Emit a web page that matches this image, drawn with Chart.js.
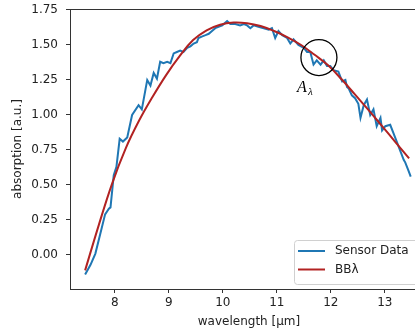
<!DOCTYPE html>
<html><head><meta charset="utf-8">
<script src="https://cdn.jsdelivr.net/npm/chart.js@4/dist/chart.umd.min.js"></script>
<style>
html,body{margin:0;padding:0;overflow:hidden;background:#fff;width:415px;height:330px}
#wrap{width:440px;height:330px}
</style></head>
<body><div id="wrap"><canvas id="c" width="440" height="330"></canvas></div>
<script>
// ---- data ----
const sensorX = [7.45,7.55,7.64,7.73,7.82,7.89,7.92,7.98,8.03,8.09,8.15,8.23,8.32,8.44,8.50,8.60,8.66,8.72,8.78,8.84,8.90,8.97,9.03,9.09,9.15,9.21,9.27,9.34,9.40,9.46,9.52,9.55,9.61,9.68,9.74,9.80,9.86,9.92,9.99,10.08,10.14,10.23,10.32,10.39,10.45,10.51,10.57,10.66,10.76,10.85,10.91,10.97,11.03,11.10,11.19,11.25,11.31,11.40,11.50,11.56,11.62,11.68,11.74,11.81,11.87,11.93,11.99,12.05,12.14,12.21,12.27,12.30,12.33,12.39,12.45,12.51,12.55,12.61,12.67,12.73,12.79,12.85,12.92,12.95,13.01,13.10,13.16,13.23,13.29,13.35,13.38,13.44,13.48];
const sensorY = [-0.14,-0.07,0.01,0.15,0.29,0.33,0.34,0.57,0.63,0.83,0.81,0.84,1.00,1.07,1.04,1.25,1.21,1.30,1.26,1.38,1.37,1.38,1.37,1.44,1.45,1.46,1.45,1.48,1.49,1.51,1.52,1.55,1.56,1.57,1.58,1.60,1.62,1.63,1.64,1.67,1.65,1.65,1.64,1.65,1.64,1.62,1.64,1.63,1.62,1.61,1.62,1.55,1.60,1.57,1.55,1.51,1.54,1.50,1.48,1.45,1.45,1.36,1.39,1.36,1.39,1.35,1.35,1.32,1.31,1.24,1.25,1.20,1.19,1.14,1.12,1.08,0.98,1.07,1.11,1.00,1.04,0.92,0.98,0.89,0.92,0.93,0.87,0.80,0.74,0.68,0.66,0.60,0.56];
const bbX = [7.45,7.7,7.95,8.2,8.45,8.7,8.95,9.2,9.45,9.7,9.95,10.2,10.45,10.7,10.95,11.2,11.45,11.7,11.95,12.2,12.45,12.7,12.95,13.2,13.45];
const bbY = [-0.11,0.21,0.51,0.76,0.96,1.13,1.285,1.42,1.535,1.605,1.645,1.66,1.655,1.635,1.60,1.555,1.50,1.43,1.355,1.255,1.145,1.035,0.92,0.805,0.69];
const seriesNames = ['Sensor Data', 'BBλ'];
const xTicks = [8, 9, 10, 11, 12, 13];
const yTicks = [0, 0.25, 0.5, 0.75, 1.0, 1.25, 1.5, 1.75];
const xTitle = 'wavelength [µm]';
const yTitle = 'absorption [a.u.]';
const markX = 11.78, markY = 1.41;   // annotation circle centre (data units)
const markLabel = 'A', markSub = 'λ';

// ---- styling ----
const FONT = "'DejaVu Sans'";
const TXT = '#222';
const BLUE = '#1f77b4', RED = '#b22222';
Chart.defaults.font.family = FONT;
Chart.defaults.font.size = 12;
Chart.defaults.color = TXT;

const toPts = (xs, ys) => xs.map((x, i) => ({x, y: ys[i]}));

const decor = {
  id: 'decor',
  afterDatasetsDraw(chart) {
    const {ctx, chartArea: a, scales} = chart;
    ctx.save();
    // frame (all four spines)
    ctx.strokeStyle = '#333'; ctx.lineWidth = 1;
    ctx.strokeRect(Math.round(a.left) + 0.5, Math.round(a.top) + 0.5,
                   Math.round(a.right - a.left), Math.round(a.bottom - a.top));
    // annotation circle
    const cx = scales.x.getPixelForValue(markX), cy = scales.y.getPixelForValue(markY);
    ctx.beginPath(); ctx.arc(cx, cy, 18, 0, Math.PI * 2);
    ctx.strokeStyle = '#000'; ctx.lineWidth = 1.3; ctx.stroke();
    ctx.fillStyle = '#000'; ctx.textBaseline = 'alphabetic'; ctx.textAlign = 'left';
    ctx.font = "italic 16px 'Liberation Serif'";
    ctx.fillText(markLabel, cx - 22, cy + 34);
    ctx.font = "italic 11px 'Liberation Serif'";
    ctx.fillText(markSub, cx - 11, cy + 37);
    // legend (lower right)
    const lx = a.right - 134, ly = a.bottom - 49, lw = 129, lh = 44;
    ctx.beginPath(); ctx.roundRect(lx + 0.5, ly + 0.5, lw, lh, 3);
    ctx.fillStyle = 'rgba(255,255,255,0.85)'; ctx.fill();
    ctx.strokeStyle = '#d0d0d0'; ctx.lineWidth = 1; ctx.stroke();
    ctx.font = "12px " + FONT; ctx.textBaseline = 'middle';
    chart.data.datasets.forEach((ds, i) => {
      const y = ly + 11 + i * 18.5;
      ctx.beginPath(); ctx.moveTo(lx + 4, y); ctx.lineTo(lx + 31, y);
      ctx.strokeStyle = ds.borderColor; ctx.lineWidth = ds.borderWidth; ctx.stroke();
      ctx.fillStyle = TXT; ctx.fillText(ds.label, lx + 41, y);
    });
    ctx.restore();
  }
};

new Chart(document.getElementById('c'), {
  type: 'line',
  data: {
    datasets: [
      {label: seriesNames[0], data: toPts(sensorX, sensorY), borderColor: BLUE, borderWidth: 2,
       pointRadius: 0, tension: 0, order: 1},
      {label: seriesNames[1], data: toPts(bbX, bbY), borderColor: RED, borderWidth: 2,
       pointRadius: 0, tension: 0.4, order: 0}
    ]
  },
  options: {
    responsive: false, animation: false, devicePixelRatio: 1,
    layout: {padding: {left: 0, top: 9, right: 12, bottom: 0}},
    plugins: {legend: {display: false}, tooltip: {enabled: false}},
    scales: {
      x: {
        type: 'linear', min: 7.17, max: 13.8,
        afterBuildTicks: s => { s.ticks = xTicks.map(v => ({value: v})); },
        afterFit: s => { s.height = 41; s.paddingLeft = 0; s.paddingRight = 0; },
        ticks: {padding: 3, color: TXT, callback: v => String(v), maxRotation: 0},
        grid: {display: true, drawOnChartArea: false, drawTicks: true, tickLength: 4, tickColor: '#333'},
        border: {display: true, color: '#333'},
        title: {display: true, text: xTitle, color: TXT, padding: {top: 0, bottom: 1}}
      },
      y: {
        type: 'linear', min: -0.243, max: 1.757,
        afterBuildTicks: s => { s.ticks = yTicks.map(v => ({value: v})); },
        afterFit: s => { s.width = 70; s.paddingTop = 0; s.paddingBottom = 0; },
        ticks: {padding: 8, color: TXT, callback: v => Number(v).toFixed(2)},
        grid: {display: true, drawOnChartArea: false, drawTicks: true, tickLength: 4, tickColor: '#333'},
        border: {display: true, color: '#333'},
        title: {display: true, text: yTitle, color: TXT, padding: {top: 11, bottom: 0}}
      }
    }
  },
  plugins: [decor]
});
</script>
</body></html>
